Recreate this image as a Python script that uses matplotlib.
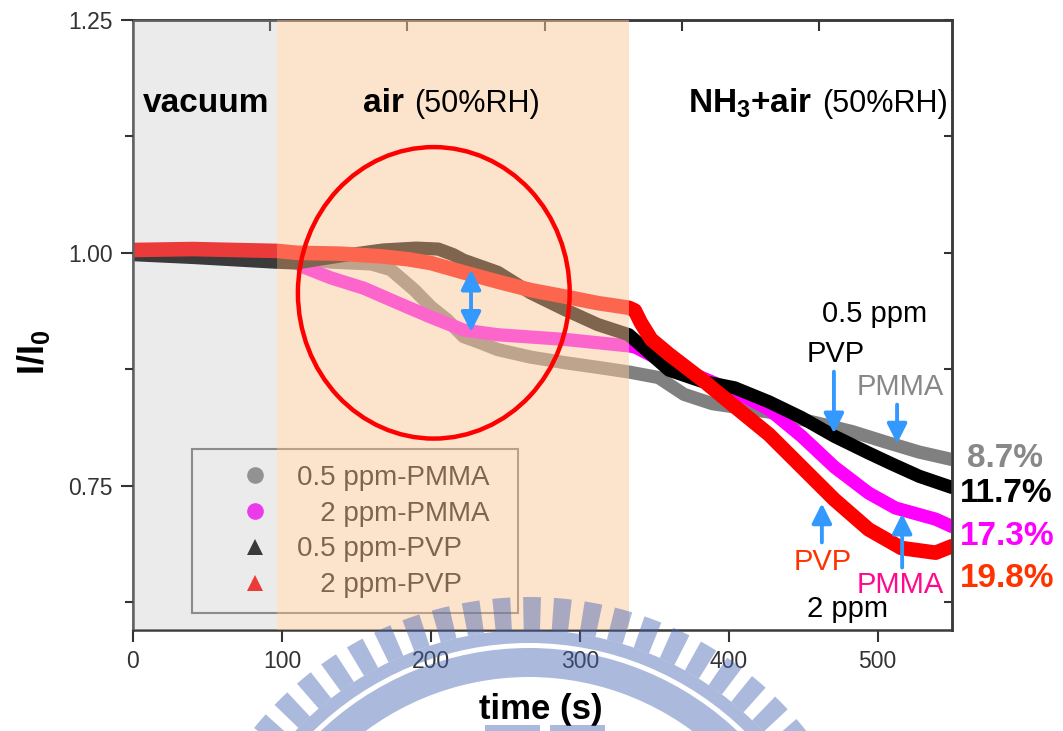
import matplotlib
matplotlib.use("Agg")
import matplotlib.pyplot as plt
from matplotlib.patches import Ellipse, Wedge, Rectangle
from matplotlib.lines import Line2D
from matplotlib.ticker import FormatStrFormatter

plt.rcParams['font.family'] = ['Liberation Sans', 'DejaVu Sans']
plt.rcParams['mathtext.fontset'] = 'custom'
plt.rcParams['mathtext.rm'] = 'Liberation Sans'
plt.rcParams['mathtext.bf'] = 'Liberation Sans:bold'
plt.rcParams['mathtext.it'] = 'Liberation Sans:italic'

# ---------------- data ----------------
pmma05_t = [0, 40, 97, 133, 160, 173, 189, 200, 211, 222, 234, 245, 267, 290, 312, 333,
            353, 370, 389, 427, 460, 483, 505, 528, 550]
pmma05_y = [1.000, 1.000, 0.997, 0.990, 0.988, 0.982, 0.960, 0.942, 0.928, 0.910, 0.903,
            0.896, 0.888, 0.882, 0.877, 0.872, 0.866, 0.848, 0.838, 0.829, 0.817, 0.808,
            0.797, 0.786, 0.778]

pmma2_t = [0, 40, 97, 108, 114, 133, 155, 178, 200, 222, 245, 290, 333, 337, 360, 382,
           404, 427, 449, 471, 494, 512, 539, 550]
pmma2_y = [1.001, 1.001, 1.000, 0.992, 0.985, 0.973, 0.962, 0.946, 0.931, 0.917, 0.912,
           0.907, 0.900, 0.899, 0.880, 0.866, 0.851, 0.832, 0.803, 0.770, 0.742, 0.726,
           0.714, 0.706]

pvp05_t = [0, 40, 95, 110, 125, 145, 168, 190, 205, 215, 222, 245, 267, 290, 312, 333, 345,
           360, 382, 404, 427, 449, 471, 494, 510, 528, 550]
pvp05_y = [0.998, 0.995, 0.990, 0.989, 0.993, 0.998, 1.003, 1.005, 1.004, 0.998, 0.992,
           0.979, 0.957, 0.939, 0.923, 0.912, 0.895, 0.874, 0.862, 0.855, 0.840, 0.823,
           0.803, 0.785, 0.773, 0.760, 0.748]

pvp2_t = [0, 40, 97, 110, 140, 168, 185, 200, 222, 245, 267, 290, 312, 333, 337, 341,
          348, 360, 382, 404, 427, 449, 471, 494, 516, 539, 550]
pvp2_y = [1.003, 1.004, 1.002, 1.000, 0.999, 0.996, 0.993, 0.989, 0.979, 0.969, 0.960,
          0.953, 0.946, 0.941, 0.938, 0.925, 0.907, 0.891, 0.864, 0.835, 0.805, 0.770,
          0.735, 0.703, 0.683, 0.678, 0.685]

series_labels = ['0.5 ppm-PMMA', '   2 ppm-PMMA', '0.5 ppm-PVP', '   2 ppm-PVP']
series_colors = ['#808080', '#ff00ff', '#000000', '#ff0000']
series_markers = ['o', 'o', '^', '^']
series_lw = [9.5, 9.5, 9.5, 10.5]

drop_labels = ['8.7%', '11.7%', '17.3%', '19.8%']
drop_colors = ['#888888', '#000000', '#ff00ff', '#ff3300']

xticks = [0, 100, 200, 300, 400, 500]
yticks = [0.75, 1.00, 1.25]
yminor = [0.625, 0.875, 1.125]
top_ticks = [92, 184, 277, 369, 461]

vacuum_span = (0, 97)
air_span = (97, 333)

# ---------------- figure ----------------
fig = plt.figure(figsize=(10.63, 7.31), dpi=100)
ax = fig.add_axes([0.1251, 0.1382, 0.7705, 0.8345])

series = [(pmma05_t, pmma05_y), (pmma2_t, pmma2_y), (pvp05_t, pvp05_y), (pvp2_t, pvp2_y)]
for (t, y), c, lw in zip(series, series_colors, series_lw):
    ax.plot(t, y, color=c, lw=lw, solid_capstyle='round', solid_joinstyle='round', zorder=2)

# translucent region overlays (drawn above the curves)
ax.axvspan(*vacuum_span, color=(190/255, 190/255, 190/255), alpha=0.306, lw=0, zorder=3)
ax.axvspan(*air_span, color=(251/255, 200/255, 155/255), alpha=0.51, lw=0, zorder=3)

ax.set_xlim(0, 550)
ax.set_ylim(0.595, 1.25)
ax.set_xticks(xticks)
ax.set_yticks(yticks)
ax.set_yticks(yminor, minor=True)
ax.yaxis.set_major_formatter(FormatStrFormatter('%.2f'))
ax.tick_params(which='major', labelsize=16.5, length=8.5, width=1.5, direction='out',
               color='#333333', labelcolor='#333333', pad=6)
ax.tick_params(which='minor', length=5.5, width=1.5, direction='out', color='#333333')
for s in ax.spines.values():
    s.set_linewidth(1.8)
    s.set_color('#3a3a3a')

axr = ax.secondary_yaxis('right')
axr.set_yticks(yticks + yminor)
axr.set_yticklabels([])
axr.tick_params(direction='in', length=6, width=1.5, color='#333333')
axr.spines['right'].set_linewidth(1.8)
axr.spines['right'].set_color('#3a3a3a')

axt = ax.secondary_xaxis('top')
axt.set_xticks(top_ticks)
axt.set_xticklabels([])
axt.tick_params(direction='in', length=8, width=1.5, color='#333333')
axt.spines['top'].set_linewidth(1.8)
axt.spines['top'].set_color('#3a3a3a')

# legend (under the overlays), with its own frame rectangle
handles = [Line2D([], [], ls='none', marker=m, markersize=12, color=c, markeredgewidth=0)
           for m, c in zip(series_markers, series_colors)]
leg = ax.legend(handles, series_labels, loc='upper left', bbox_to_anchor=(0.1148, 0.271),
                borderaxespad=0, fontsize=20, frameon=False,
                handlelength=2.0, handletextpad=0.52, borderpad=0.0, labelspacing=0.356)
leg.set_zorder(2.5)
ax.add_patch(Rectangle((0.072, 0.0279), 0.398, 0.2689, transform=ax.transAxes, fill=False,
                       edgecolor='#777777', lw=1.5, zorder=2.5))

# region labels
ax.text(49.4, 1.151, 'vacuum', fontsize=24, fontweight='bold', ha='center', va='baseline', zorder=6)
ax.text(181.8, 1.151, 'air', fontsize=24, fontweight='bold', ha='right', va='baseline', zorder=6)
ax.text(188.6, 1.151, '(50%RH)', fontsize=22, ha='left', va='baseline', zorder=6)
ax.text(455.9, 1.151, r'NH$_\mathbf{3}$+air', fontsize=24, fontweight='bold', ha='right',
        va='baseline', zorder=6)
ax.text(462.5, 1.151, '(50%RH)', fontsize=22, ha='left', va='baseline', zorder=6)

# red circle highlight
ax.add_patch(Ellipse((202, 0.957), 182.5, 0.313, fill=False, edgecolor='#ff0000', lw=3.2, zorder=6))

blue = '#3399ff'
def arrow(x0, y0, x1, y1, style='-|>'):
    ax.annotate('', xy=(x1, y1), xytext=(x0, y0), zorder=7,
                arrowprops=dict(arrowstyle=style, color=blue, lw=2.8, mutation_scale=30,
                                shrinkA=0, shrinkB=0))

arrow(227, 0.982, 227, 0.915, style='<|-|>')
arrow(470.7, 0.8723, 470.7, 0.806)
arrow(513.1, 0.837, 513.1, 0.795)
arrow(462.6, 0.689, 462.6, 0.731)
arrow(516.5, 0.662, 516.5, 0.720)

# annotation texts
ax.text(462.6, 0.926, '0.5 ppm', fontsize=21, color='black', ha='left', va='baseline', zorder=7)
ax.text(452.5, 0.883, 'PVP', fontsize=21, color='black', ha='left', va='baseline', zorder=7)
ax.text(486.2, 0.8476, 'PMMA', fontsize=21, color='#888888', ha='left', va='baseline', zorder=7)
ax.text(443.8, 0.6599, 'PVP', fontsize=21, color='#ff3300', ha='left', va='baseline', zorder=7)
ax.text(486.2, 0.6352, 'PMMA', fontsize=21, color='#ff0a8c', ha='left', va='baseline', zorder=7)
ax.text(452.5, 0.6094, '2 ppm', fontsize=21, color='black', ha='left', va='baseline', zorder=7)

drop_x = [560.3, 555.6, 555.6, 555.6]
drop_y = [0.7704, 0.7328, 0.6867, 0.6416]
for lab, c, x, y in zip(drop_labels, drop_colors, drop_x, drop_y):
    ax.text(x, y, lab, fontsize=24, fontweight='bold', color=c, ha='left', va='baseline',
            zorder=7, clip_on=False)

# axis labels
fig.text(0.0315, 0.5185, r'I/I$_\mathbf{0}$', fontsize=26, fontweight='bold', rotation=90,
         ha='center', va='center')
fig.text(541 / 1063, 1 - 709 / 731, 'time (s)', fontsize=25, fontweight='bold',
         ha='center', va='center')

# faint watermark emblem (decoration)
wm = fig.add_axes([0, 0, 1, 1], zorder=10)
wm.set_xlim(0, 1063)
wm.set_ylim(731, 0)
wm.axis('off')
wm.patch.set_alpha(0)
wcol = (67/255, 100/255, 178/255)
walpha = 0.45
cx, cy = 529, 951
for k in range(-14, 15):
    th = 270.5 + 5 * k
    wm.add_patch(Wedge((cx, cy), 354, th - 1.45, th + 1.45, width=33, color=wcol,
                       alpha=walpha, lw=0))
wm.add_patch(Wedge((cx, cy), 321, 180, 360, width=13, color=wcol, alpha=walpha, lw=0))
wm.add_patch(Wedge((cx, cy), 303, 180, 360, width=29, color=wcol, alpha=walpha, lw=0))
wm.add_patch(Rectangle((485, 725), 55, 10, color=wcol, alpha=walpha, lw=0))
wm.add_patch(Rectangle((550, 725), 55, 10, color=wcol, alpha=walpha, lw=0))

fig.savefig('out.png', dpi=100)
